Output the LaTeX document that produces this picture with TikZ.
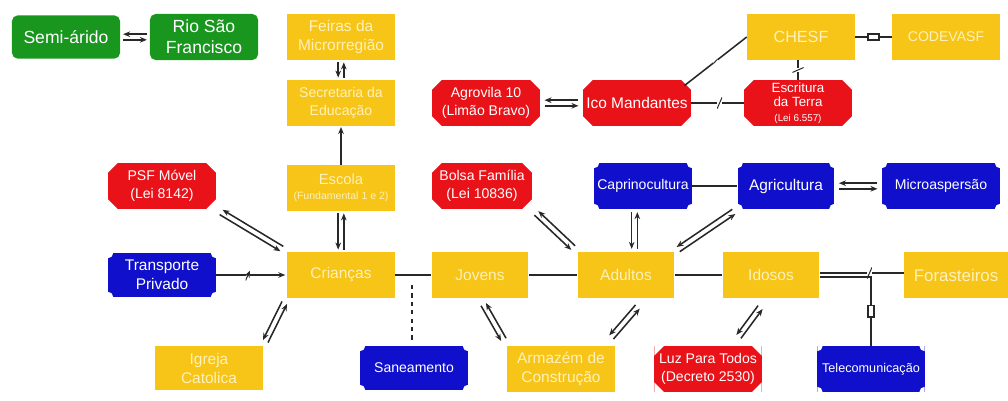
\documentclass[tikz,border=0pt]{standalone}
\usepackage{fontspec}
\setmainfont{Liberation Sans}
\usetikzlibrary{arrows.meta,calc}

\definecolor{ygold}{RGB}{247,196,24}
\definecolor{ytext}{RGB}{255,241,186}
\definecolor{ggreen}{RGB}{24,150,30}
\definecolor{rred}{RGB}{232,18,24}
\definecolor{bblue}{RGB}{16,16,204}
\definecolor{lgray}{RGB}{40,40,40}

\tikzset{
  fsize/.style 2 args={font=\fontsize{#1}{#2}\selectfont},
  box/.style={rectangle, minimum width=2.7cm, minimum height=1.15cm,
    inner sep=1pt, align=center, text=white},
  yellowbox/.style={box, fill=ygold, text=ytext},
  greenbox/.style={box, fill=ggreen, rounded corners=0.14cm},
  redbox/.style={box, fill=rred, path picture={
    \fill[white] (path picture bounding box.north west) -- ++(0.24cm,0) -- ++(-0.24cm,-0.24cm) -- cycle;
    \fill[white] (path picture bounding box.north east) -- ++(-0.24cm,0) -- ++(0.24cm,-0.24cm) -- cycle;
    \fill[white] (path picture bounding box.south west) -- ++(0.24cm,0) -- ++(-0.24cm,0.24cm) -- cycle;
    \fill[white] (path picture bounding box.south east) -- ++(-0.24cm,0) -- ++(0.24cm,0.24cm) -- cycle;}},
  bluebox/.style={box, fill=bblue, path picture={
    \foreach \c in {north west,north east,south west,south east}
      \fill[white] (path picture bounding box.\c) circle (0.13cm);}},
  conn/.style={draw=lgray, line width=1.1pt},
  arr/.style={conn, -{Stealth[length=5pt,width=4pt]}, shorten >=1.5pt, shorten <=1.5pt},
  brk/.style={sloped, fill=white, inner sep=0pt, minimum width=3.5pt, minimum height=8pt,
    path picture={\draw[line width=0.7pt, lgray] (path picture bounding box.south west) -- (path picture bounding box.north east);}},
  resist/.style={sloped, draw=lgray, fill=white, line width=1.1pt, inner sep=0pt,
    minimum width=8pt, minimum height=4pt}
}

% pair of opposite arrows between two points
\newcommand{\twoway}[3][]{%
  \draw[arr,#1] ($(#2)!2pt!-90:(#3)$) -- ($(#3)!2pt!90:(#2)$);
  \draw[arr,#1] ($(#3)!2pt!-90:(#2)$) -- ($(#2)!2pt!90:(#3)$);}

\begin{document}
\begin{tikzpicture}[x=0.025cm, y=-0.025cm]
  \useasboundingbox (0,0) rectangle (1008,401);

  % top row
  \node (semi) [greenbox, fsize={12.5}{15}, minimum height=1.08cm] at (66,37) {Semi-árido};
  \node (rio) [greenbox, fsize={12.5}{15}] at (204,37) {Rio São\\Francisco};
  \node (feiras) [yellowbox, fsize={11}{13.5}] at (341,37) {Feiras da\\Microrregião};
  \node (chesf) [yellowbox, fsize={11.5}{13}] at (801,37) {CHESF};
  \node (codev) [yellowbox, fsize={10}{12}] at (946,37) {CODEVASF};

  \node (secr) [yellowbox, fsize={10}{13}] at (341,103) {Secretaria da\\Educação};
  \node (agrov) [redbox, fsize={10}{12.5}] at (486,103) {Agrovila 10\\(Limão Bravo)};
  \node (ico) [redbox, fsize={11}{13}] at (637,103) {Ico Mandantes};
  \node (escrit) [redbox, fsize={9.5}{10.5}] at (798,103) {Escritura\\da Terra\\{\fontsize{7}{8}\selectfont(Lei 6.557)}};

  \node (psf) [redbox, fsize={10}{12.5}] at (162,186) {PSF Móvel\\(Lei 8142)};
  \node (escola) [yellowbox, fsize={10.5}{12}] at (341,188) {Escola\\[-1pt]{\fontsize{7.5}{8}\selectfont(Fundamental 1 e 2)}};
  \node (bolsa) [redbox, fsize={10}{12.5}, minimum width=2.5cm] at (482,186) {Bolsa Família\\(Lei 10836)};
  \node (capri) [bluebox, fsize={10}{12}, minimum width=2.45cm] at (643,186) {Caprinocultura};
  \node (agric) [bluebox, fsize={11}{13}, minimum width=2.42cm] at (786,186) {Agricultura};
  \node (micro) [bluebox, fsize={10}{12}, minimum width=2.95cm] at (941,186) {Microaspersão};

  % population row
  \node (transp) [bluebox, fsize={11}{13.5}, minimum height=1.1cm] at (162,275) {Transporte\\Privado};
  \node (crian) [yellowbox, fsize={11}{13}] at (341,275) {Crianças};
  \node (jovens) [yellowbox, fsize={11}{13}, minimum width=2.42cm] at (480,275) {Jovens};
  \node (adultos) [yellowbox, fsize={11}{13}, minimum width=2.42cm] at (626,275) {Adultos};
  \node (idosos) [yellowbox, fsize={11}{13}, minimum width=2.42cm] at (771,275) {Idosos};
  \node (forast) [yellowbox, fsize={12}{14}, minimum width=2.58cm] at (956,275) {Forasteiros};

  % bottom row
  \node (igreja) [yellowbox, fsize={11}{13.5}, minimum height=1.1cm] at (209,368) {Igreja\\Catolica};
  \node (saneam) [bluebox, fsize={10}{12}, minimum height=1.1cm] at (414,368) {Saneamento};
  \node (armazem) [yellowbox, fsize={11}{13.5}, minimum width=2.68cm] at (561,369) {Armazém de\\Construção};
  \node (luz) [redbox, fsize={10}{12.5}, minimum width=2.68cm] at (708,369) {Luz Para Todos\\(Decreto 2530)};
  \node (telecom) [bluebox, fsize={9}{11}, minimum width=2.68cm] at (871,369) {Telecomunicação};

  \coordinate (m1) at ($(capri.south)!0.5!(adultos.north)$);
  \coordinate (cap-s) at (capri.south -| m1);
  \coordinate (adu-n) at (adultos.north -| m1);
  \coordinate (aa1) at ($(adultos.south)+(19,0)$);
  \coordinate (aa2) at ($(armazem.north)+(43,0)$);
  \coordinate (il1) at ($(idosos.south)+(-4,0)$);
  \coordinate (il2) at ($(luz.north)+(24,0)$);
  \coordinate (ic1) at ($(ico.north east)+(-7,6)$);

  \twoway[shorten >=2pt, shorten <=2pt]{semi.east}{rio.west}
  \twoway{feiras.south}{secr.north}
  \draw[arr, shorten <=0pt, shorten >=0.5pt] (escola.north) -- (secr.south);
  \twoway{escola.south}{crian.north}
  \twoway[shorten >=4pt, shorten <=4pt]{psf.south east}{crian.north west}
  \draw[arr, shorten <=0pt, shorten >=1pt] (transp.east) -- node[brk, pos=.45] {} (crian.west);
  \draw[conn] (crian.east) -- coordinate[pos=.47] (dash0) (jovens.west);
  \draw[conn, dash pattern=on 3pt off 3pt, shorten <=7pt, shorten >=4pt] (dash0) -- (saneam.north -| dash0);
  \twoway[shorten >=3.5pt, shorten <=3.5pt]{crian.south west}{igreja.north east}
  \twoway[shorten >=5pt, shorten <=5pt]{jovens.south}{armazem.north west}
  \draw[conn] (jovens.east) -- (adultos.west);
  \twoway[shorten >=4pt, shorten <=4pt]{bolsa.south east}{adultos.north west}
  \twoway[shorten >=2pt, shorten <=2pt]{cap-s}{adu-n}
  \twoway[shorten >=3pt, shorten <=3pt]{adultos.north east}{agric.south west}
  \draw[conn] (capri.east) -- (agric.west);
  \twoway[shorten >=3pt, shorten <=3pt]{agric.east}{micro.west}
  \twoway[shorten >=8pt, shorten <=8pt]{aa1}{aa2}
  \draw[conn] (adultos.east) -- (idosos.west);
  \twoway[shorten >=8pt, shorten <=8pt]{il1}{il2}
  \draw[conn] ([yshift=1.4pt]idosos.east) -- node[brk, pos=.59] {} ([yshift=1.4pt]forast.west);
  \draw[conn] ([yshift=-1.4pt]idosos.east) -| node[resist, pos=.75] {} (telecom.north);
  \twoway[shorten >=3pt, shorten <=3pt]{agrov.east}{ico.west}
  \draw[conn] (ico.east) -- node[brk, pos=.54] {} (escrit.west);
  \draw[conn] (ic1) -- node[brk] {} (chesf.west);
  \draw[conn] (escrit.north) -- node[brk] {} (escrit.north |- chesf.south);
  \draw[conn] (chesf.east) -- node[resist] {} (codev.west);
\end{tikzpicture}
\end{document}
